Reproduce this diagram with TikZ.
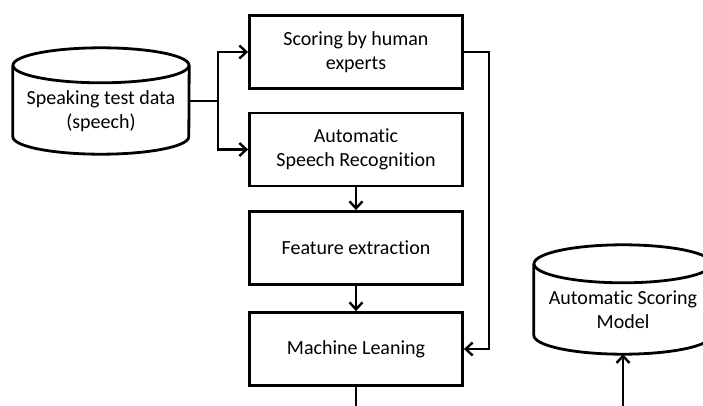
\documentclass[tikz,border=0pt]{standalone}
\usepackage{fontspec}
\setmainfont{Carlito}[Ligatures={NoCommon}]
\usetikzlibrary{arrows.meta,calc}
\begin{document}
\begin{tikzpicture}[x=1pt,y=-1pt,
  lbl/.style={align=center, font=\fontsize{20}{24}\selectfont, inner sep=0pt},
  proc/.style={lbl, draw, line width=2.8pt, minimum width=213pt, minimum height=73pt},
  cylbody/.style={inner sep=0pt},
  cyl/.style={line width=2.8pt},
  conn/.style={line width=2.4pt},
  arr/.style={conn, -{Straight Barb[length=7pt,width=13pt,line width=2.4pt]}}
]
\useasboundingbox (0,0) rectangle (703,406);
\clip (0,0) rectangle (703,406);

% process boxes
\node[proc] (hum)  at (356,52)    {Scoring by human\\experts};
\node[proc] (asr)  at (356,149.5) {Automatic\\Speech Recognition};
\node[proc] (feat) at (356,248)   {Feature extraction};
\node[proc] (ml)   at (356,349)   {Machine Leaning};

% left cylinder
\node[cylbody, minimum width=176pt, minimum height=106pt] (data) at (101,101) {};
\draw[cyl] ([yshift=-17.5pt]data.north) ellipse [x radius=88pt, y radius=17.5pt];
\draw[cyl] ([yshift=-17.5pt]data.north west) -- ([yshift=17.5pt]data.south west)
  arc[start angle=180, end angle=360, x radius=88pt, y radius=17.5pt]
  -- ([yshift=-17.5pt]data.north east);
\node[lbl] (datatxt) at (101,111) {Speaking test data\\(speech)};

% right cylinder
\node[cylbody, minimum width=178pt, minimum height=109pt] (model) at (623,299.5) {};
\draw[cyl] ([yshift=-19pt]model.north) ellipse [x radius=89pt, y radius=19pt];
\draw[cyl] ([yshift=-19pt]model.north west) -- ([yshift=19pt]model.south west)
  arc[start angle=180, end angle=360, x radius=89pt, y radius=19pt]
  -- ([yshift=-19pt]model.north east);
\node[lbl] (modeltxt) at (623,310) {Automatic Scoring\\Model};

% connectors
\coordinate (j) at (218,101);
\draw[conn] (data.east) -- (j);
\draw[arr] (j) |- (hum.west);
\draw[arr] (j) |- (asr.west);
\draw[arr] (asr.south) -- (feat.north);
\draw[arr] (feat.south) -- (ml.north);
\coordinate (rt) at (489,52);
\draw[arr] (hum.east) -- (rt) |- (ml.east);
\coordinate (mlout) at (356,406);
\draw[conn] (ml.south) -- (mlout);
\coordinate (modelin) at (623,406);
\draw[arr] (modelin) -- (model.south);
\end{tikzpicture}
\end{document}
